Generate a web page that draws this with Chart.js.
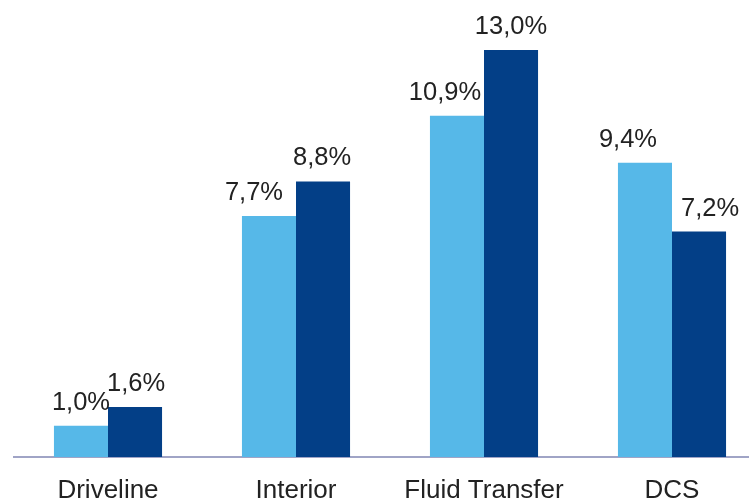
<!DOCTYPE html>
<html>
<head>
<meta charset="utf-8">
<script src="https://cdn.jsdelivr.net/npm/chart.js@4/dist/chart.umd.min.js"></script>
<style>
  html, body { margin: 0; padding: 0; background: #fff; overflow: hidden; }
  #wrap { width: 749px; height: 502px; overflow: hidden; position: relative; }
  #box { position: absolute; left: 0; top: 0; width: 766px; height: 502px; }
</style>
</head>
<body>
<div id="wrap"><div id="box"><canvas id="chartMarges"></canvas></div></div>
<script>
// Données
const categories = ["Driveline", "Interior", "Fluid Transfer", "DCS"];
const serieA = [1.0, 7.7, 10.9, 9.4];
const serieB = [1.6, 8.8, 13.0, 7.2];

const couleurA = "#56b8e8";
const couleurB = "#033f87";

// Décalage horizontal des étiquettes (px)
const decalA = [0, -15, -12, -17];
const decalB = [1, -1, 0, 11];

const fmt = v => v.toFixed(1).replace(".", ",") + "%";

// Étiquettes de valeur au-dessus des barres
const etiquettes = {
  id: "etiquettes",
  afterDatasetsDraw(chart) {
    const ctx = chart.ctx;
    ctx.save();
    ctx.font = "25.5px 'Liberation Sans', Arial, sans-serif";
    ctx.fillStyle = "#222";
    ctx.textAlign = "center";
    ctx.textBaseline = "alphabetic";
    chart.data.datasets.forEach((ds, i) => {
      const decal = i === 0 ? decalA : decalB;
      chart.getDatasetMeta(i).data.forEach((bar, j) => {
        ctx.fillText(fmt(ds.data[j]), bar.x + decal[j], bar.y - 16);
      });
    });
    ctx.restore();
  }
};

new Chart(document.getElementById("chartMarges").getContext("2d"), {
  type: "bar",
  data: {
    labels: categories,
    datasets: [
      { label: "A", data: serieA, backgroundColor: couleurA, categoryPercentage: 0.575, barPercentage: 1.0 },
      { label: "B", data: serieB, backgroundColor: couleurB, categoryPercentage: 0.575, barPercentage: 1.0 }
    ]
  },
  options: {
    responsive: true,
    maintainAspectRatio: false,
    animation: false,
    layout: { padding: { top: 50, left: 14, right: 0, bottom: 0 } },
    plugins: {
      legend: { display: false },
      tooltip: { enabled: false }
    },
    scales: {
      x: {
        grid: { display: false, drawTicks: false },
        border: { color: "#a0a4c6", width: 2 },
        ticks: {
          color: "#222",
          padding: 21,
          font: { family: "'Liberation Sans', Arial, sans-serif", size: 26, lineHeight: 1 }
        },
        afterFit: s => { s.height = 45; }
      },
      y: {
        display: false,
        min: 0,
        max: 13
      }
    }
  },
  plugins: [etiquettes]
});
</script>
</body>
</html>
